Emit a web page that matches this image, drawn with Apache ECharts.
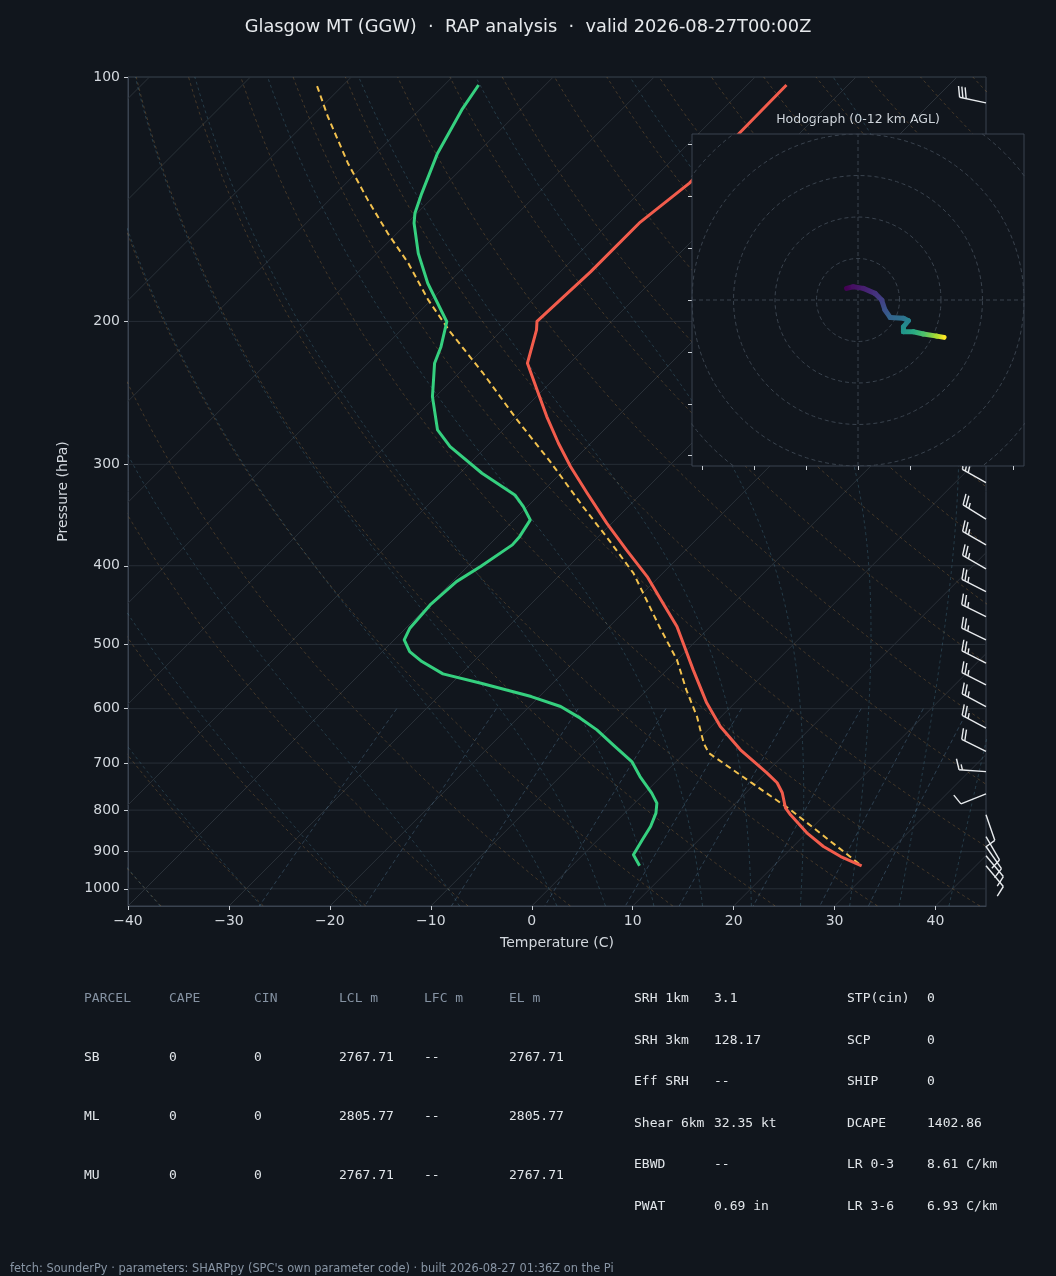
<!DOCTYPE html>
<html>
<head>
<meta charset="utf-8">
<script src="https://cdn.jsdelivr.net/npm/echarts@6/dist/echarts.min.js"></script>
<style>
  html, body { margin: 0; padding: 0; background: #11161d; }
  #chart { width: 1056px; height: 1276px; }
</style>
</head>
<body>
<div id="chart"></div>
<script>
// ---- sounding profiles (pressure hPa / temperature C) ----
const tempP = [102.3, 117.2, 135.1, 150.9, 173.8, 200.0, 204.9, 225.2, 242.9, 262.0, 282.6, 301.9, 325.6, 354.5, 382.4, 412.5, 444.8, 475.3, 537.4, 590.1, 631.1, 674.2, 719.7, 740.3, 761.6, 794.7, 810.7, 853.2, 886.9, 912.5, 936.9];
const tempC = [-56.1, -56.0, -56.0, -57.0, -57.0, -57.4, -56.6, -54.2, -50.6, -47.0, -43.2, -39.7, -35.4, -30.5, -25.9, -21.2, -17.0, -13.3, -7.4, -2.8, 0.9, 5.2, 10.1, 12.1, 13.6, 15.4, 16.6, 20.0, 23.0, 25.7, 28.7];

const dewP = [102.3, 109.8, 124.2, 139.1, 147.2, 151.4, 164.9, 179.5, 200.2, 214.9, 225.2, 247.6, 272.1, 285.3, 307.7, 327.2, 338.2, 351.2, 368.3, 377.0, 400.9, 418.4, 447.0, 477.5, 493.6, 510.2, 524.9, 543.5, 558.1, 579.7, 596.3, 616.3, 637.1, 664.8, 697.0, 727.3, 762.3, 784.2, 806.8, 838.1, 870.3, 908.1, 936.9];
const dewC = [-86.6, -85.8, -83.9, -81.5, -80.2, -79.3, -75.9, -72.0, -66.3, -64.4, -63.4, -60.3, -56.5, -53.6, -47.8, -42.4, -40.4, -38.4, -37.8, -37.7, -38.7, -39.6, -39.9, -39.6, -39.0, -37.3, -35.1, -31.8, -27.1, -20.8, -16.9, -13.8, -11.0, -7.9, -4.4, -2.1, 0.7, 2.2, 3.1, 3.9, 4.4, 5.0, 6.7];

const parcelP = [102.6, 111.9, 127.7, 141.7, 155.8, 169.6, 188.2, 205.9, 231.7, 264.5, 297.7, 338.2, 368.3, 408.5, 477.5, 522.4, 568.8, 613.5, 661.6, 680.5, 740.6, 799.2, 936.9];
const parcelC = [-102.5, -98.4, -91.8, -86.2, -80.9, -75.9, -70.3, -65.0, -57.6, -49.6, -42.2, -34.5, -29.2, -22.9, -14.8, -10.0, -6.1, -2.4, 0.9, 2.4, 9.6, 16.1, 28.7];

// ---- wind barbs (direction from, deg / speed kt) ----
const barbP = [107.6, 125, 150, 175, 200, 225, 250, 275, 300, 315.9, 350.5, 377.0, 403.5, 430.4, 462.0, 493.6, 527.3, 560.8, 596.3, 634.0, 677.0, 717.2, 763.8, 810.7, 862.2, 886.9, 910.7, 936.9];
const barbDir = [282, 285, 290, 292, 294, 295, 297, 298, 299, 299, 302, 300, 300, 297, 296, 296, 297, 297, 298, 298, 296, 274, 248, 161, 150, 145, 140, 140];
const barbSpd = [30, 35, 40, 45, 45, 40, 35, 30, 30, 30, 25, 25, 25, 25, 25, 25, 25, 25, 25, 25, 20, 15, 10, 10, 10, 10, 10, 10];

// ---- hodograph (kt) and height (km AGL) ----
const hodoU = [-5.5, -2.3, 2.6, 8.2, 11.4, 13.0, 15.5, 21.9, 24.3, 21.9, 21.9, 26.7, 31.5, 38.0, 41.5];
const hodoV = [5.6, 6.4, 5.6, 3.2, 0.0, -4.8, -8.4, -8.8, -10.0, -12.9, -15.3, -15.3, -16.4, -17.4, -18.0];
const hodoZ = [0, 0.5, 1.0, 1.7, 2.3, 3.0, 3.8, 4.5, 5.3, 5.8, 6.3, 7.2, 8.5, 10.5, 12.0];
const hodoRings = [20, 40, 60, 80, 100];
const hodoTicks = [-75, -50, -25, 0, 25, 50, 75];

// ---- axes ----
const pressTicks = [100, 200, 300, 400, 500, 600, 700, 800, 900, 1000];
const tempTicks = [-40, -30, -20, -10, 0, 10, 20, 30, 40];

// ---- parameter table ----
const parcelHead = ['PARCEL', 'CAPE', 'CIN', 'LCL m', 'LFC m', 'EL m'];
const parcelRows = [
  ['SB', '0', '0', '2767.71', '--', '2767.71'],
  ['ML', '0', '0', '2805.77', '--', '2805.77'],
  ['MU', '0', '0', '2767.71', '--', '2767.71']
];
const idxLabelsA = ['SRH 1km', 'SRH 3km', 'Eff SRH', 'Shear 6km', 'EBWD', 'PWAT'];
const idxValuesA = ['3.1', '128.17', '--', '32.35 kt', '--', '0.69 in'];
const idxLabelsB = ['STP(cin)', 'SCP', 'SHIP', 'DCAPE', 'LR 0-3', 'LR 3-6'];
const idxValuesB = ['0', '0', '0', '1402.86', '8.61 C/km', '6.93 C/km'];

const TITLE = 'Glasgow MT (GGW)  \u00b7  RAP analysis  \u00b7  valid 2026-08-27T00:00Z';
const FOOTER = "fetch: SounderPy \u00b7 parameters: SHARPpy (SPC's own parameter code) \u00b7 built 2026-08-27 01:36Z on the Pi";

// ---- layout ----
const BG = '#11161d';
const PLOT = { left: 128, top: 77, width: 858, height: 829 };
const HODO = { left: 692, top: 134, width: 332, height: 332 };
const P_TOP = 100, P_BOT = 1050, T_MIN = -40, T_MAX = 45;
const SKEW = (PLOT.height / PLOT.width) * (T_MAX - T_MIN) / Math.log(P_BOT / P_TOP);
const TXT = '#d3d8de';
const VIRIDIS = ['#440154', '#482878', '#3e4989', '#31688e', '#26828e', '#1f9e89', '#35b779', '#6ece58', '#b5de2b', '#fde725'];

const pt = (T, p) => [T + SKEW * Math.log(P_BOT / p), Math.log(p)];
const fmtMinus = v => (v < 0 ? '\u2212' + (-v) : String(v));

function viridis(t) {
  t = Math.max(0, Math.min(1, t)) * (VIRIDIS.length - 1);
  const i = Math.min(Math.floor(t), VIRIDIS.length - 2), f = t - i;
  const a = VIRIDIS[i], b = VIRIDIS[i + 1];
  const c = k => Math.round(parseInt(a.substr(k, 2), 16) * (1 - f) + parseInt(b.substr(k, 2), 16) * f);
  return 'rgb(' + c(1) + ',' + c(3) + ',' + c(5) + ')';
}

// thermodynamic background lines
function satMix(p, T) {
  const es = 6.112 * Math.exp(17.67 * (T - 273.15) / (T - 29.65));
  return 0.622 * es / Math.max(p - es, 1);
}
function moistRate(p, T) {
  const rs = satMix(p, T);
  return (287.04 * T + 2.501e6 * rs) / (1005.7 + 2.501e6 * 2.501e6 * rs * 0.622 / (287.04 * T * T)) / p;
}
function rk4(p, T, dp) {
  const k1 = moistRate(p, T);
  const k2 = moistRate(p + dp / 2, T + dp / 2 * k1);
  const k3 = moistRate(p + dp / 2, T + dp / 2 * k2);
  const k4 = moistRate(p + dp, T + dp * k3);
  return T + dp / 6 * (k1 + 2 * k2 + 2 * k3 + k4);
}
function moistLine(t0) {
  let T = t0 + 273.15;
  const up = [[1000, T]];
  for (let p = 1000; p > 100; p -= 5) { T = rk4(p, T, -5); up.push([p - 5, T]); }
  T = t0 + 273.15;
  const down = [];
  for (let p = 1000; p < 1050; p += 5) { T = rk4(p, T, 5); down.push([p + 5, T]); }
  return down.reverse().concat(up).map(d => pt(d[1] - 273.15, d[0]));
}
const logPs = [];
for (let i = 0; i <= 80; i++) logPs.push(P_BOT * Math.pow(P_TOP / P_BOT, i / 80));

function bgLine(data, color, type) {
  return {
    type: 'line', xAxisIndex: 0, yAxisIndex: 0, data, symbol: 'none', clip: true, silent: true,
    z: 1, lineStyle: { color, width: 1, type }
  };
}

const series = [];
pressTicks.forEach(p => series.push(bgLine([[T_MIN, Math.log(p)], [T_MAX, Math.log(p)]], '#272e37', 'solid')));
for (let T = -120; T <= 40; T += 10) series.push(bgLine([pt(T, P_BOT), pt(T, P_TOP)], '#2a3139', 'solid'));
for (let T0 = -40; T0 <= 240; T0 += 10) {
  const th = T0 + 273.15;
  series.push(bgLine(logPs.map(p => pt(th * Math.pow(p / 1000, 0.2857) - 273.15, p)), 'rgba(190,135,70,0.30)', [3, 3]));
}
[-40, -30, -20, -10].concat(Array.from({ length: 20 }, (_, i) => i * 5)).forEach(t0 =>
  series.push(bgLine(moistLine(t0), 'rgba(80,140,165,0.32)', [3, 3])));
[0.0004, 0.001, 0.002, 0.004, 0.007, 0.01, 0.016, 0.024, 0.032].forEach(w => {
  const data = [];
  for (let p = 600; p <= 1050; p += 10) {
    const l = Math.log(w * p / (0.622 + w) / 6.112);
    data.push(pt(243.5 * l / (17.67 - l), p));
  }
  series.push(bgLine(data, 'rgba(90,130,160,0.40)', [4, 3]));
});

// profiles
function profile(ps, ts, color, width, type, z) {
  return {
    type: 'line', xAxisIndex: 0, yAxisIndex: 0, data: ps.map((p, i) => pt(ts[i], p)),
    symbol: 'none', clip: true, silent: true, z, lineStyle: { color, width, type, join: 'round' }
  };
}
series.push(profile(parcelP, parcelC, '#f2c14e', 2, [6, 4], 4));
series.push(profile(dewP, dewC, '#35d07f', 3, 'solid', 5));
series.push(profile(tempP, tempC, '#f25c4c', 3, 'solid', 5));

// wind barbs on right edge
const BARB_LEN = 27;
series.push({
  type: 'custom', xAxisIndex: 0, yAxisIndex: 0, silent: true, z: 6, clip: false,
  data: barbP.map(p => [T_MAX, Math.log(p)]),
  encode: { x: 0, y: 1 },
  renderItem(params, api) {
    const i = params.dataIndex;
    const base = api.coord([api.value(0), api.value(1)]);
    const a = barbDir[i] * Math.PI / 180;
    const ux = Math.sin(a), uy = -Math.cos(a), nx = Math.cos(a), ny = Math.sin(a);
    const L = BARB_LEN, sp = 0.125 * L, h = 0.4 * L, w = 0.125 * L;
    const style = { stroke: '#e8ebee', lineWidth: 1.4, fill: null };
    const kids = [{ type: 'polyline', shape: { points: [base, [base[0] + ux * L, base[1] + uy * L]] }, style }];
    const s = Math.round(barbSpd[i] / 5) * 5;
    const nFull = Math.floor(s / 10), half = s % 10 >= 5;
    let d = L;
    const feather = (k) => {
      const px = base[0] + ux * d, py = base[1] + uy * d;
      kids.push({ type: 'polyline', shape: { points: [[px, py], [px + nx * h * k + ux * w * k, py + ny * h * k + uy * w * k]] }, style });
    };
    for (let f = 0; f < nFull; f++) { feather(1); d -= sp; }
    if (half) { if (nFull === 0) d -= 1.5 * sp; feather(0.5); }
    return { type: 'group', children: kids };
  }
});

// hodograph
const circ = r => Array.from({ length: 121 }, (_, k) => [r * Math.cos(k * Math.PI / 60), r * Math.sin(k * Math.PI / 60)]);
function hodoLine(data) {
  return {
    type: 'line', xAxisIndex: 1, yAxisIndex: 1, data, symbol: 'none', clip: true, silent: true,
    zlevel: 1, z: 3, lineStyle: { color: '#3a434e', width: 1, type: [4, 3] }
  };
}
hodoRings.forEach(r => series.push(hodoLine(circ(r))));
series.push(hodoLine([[-80, 0], [80, 0]]));
series.push(hodoLine([[0, -80], [0, 80]]));
series.push({
  type: 'custom', xAxisIndex: 1, yAxisIndex: 1, silent: true, zlevel: 1, z: 5,
  data: hodoU.map((u, i) => [u, hodoV[i], hodoZ[i]]),
  encode: { x: 0, y: 1 },
  renderItem(params, api) {
    const i = params.dataIndex;
    if (i >= hodoU.length - 1) return;
    const a = api.coord([hodoU[i], hodoV[i]]), b = api.coord([hodoU[i + 1], hodoV[i + 1]]);
    return {
      type: 'line', shape: { x1: a[0], y1: a[1], x2: b[0], y2: b[1] },
      style: {
        lineWidth: 5, lineCap: 'round',
        stroke: new echarts.graphic.LinearGradient(a[0], a[1], b[0], b[1], [
          { offset: 0, color: viridis(hodoZ[i] / 12) }, { offset: 1, color: viridis(hodoZ[i + 1] / 12) }], true)
      }
    };
  }
});

// text
function txt(x, y, text, fill, font, align) {
  align = align || 'left';
  return {
    type: 'text', x, y, silent: true,
    style: { text, fill, font, align, textAlign: align, verticalAlign: 'middle', textVerticalAlign: 'middle' }
  };
}
const MONO = '13px "DejaVu Sans Mono", monospace';
const graphics = [
  txt(528, 27, TITLE, '#e6e9ec', '17.8px "DejaVu Sans"', 'center'),
  txt(858, 120, 'Hodograph (0-12 km AGL)', '#cfd5db', '12.5px "DejaVu Sans"', 'center'),
  txt(10, 1269, FOOTER, '#8895a4', '11.4px "DejaVu Sans"')
];
const colX = [84, 169, 254, 339, 424, 509];
parcelHead.forEach((h, c) => graphics.push(txt(colX[c], 999, h, '#8592a2', MONO)));
parcelRows.forEach((row, r) => row.forEach((v, c) => graphics.push(txt(colX[c], 1058 + r * 59, v, '#e2e6ea', MONO))));
const idxY = [999, 1041, 1082, 1124, 1165, 1207];
idxLabelsA.forEach((l, r) => {
  graphics.push(txt(634, idxY[r], l, '#e2e6ea', MONO));
  graphics.push(txt(714, idxY[r], idxValuesA[r], '#e2e6ea', MONO));
  graphics.push(txt(847, idxY[r], idxLabelsB[r], '#e2e6ea', MONO));
  graphics.push(txt(927, idxY[r], idxValuesB[r], '#e2e6ea', MONO));
});

const hodoAxis = {
  gridIndex: 1, type: 'value', min: -80, max: 80, zlevel: 1,
  axisLine: { show: false, onZero: false },
  axisTick: { show: true, length: 4, customValues: hodoTicks, lineStyle: { color: '#c9ced4' } },
  axisLabel: { show: false }, splitLine: { show: false }
};

const chart = echarts.init(document.getElementById('chart'));
chart.setOption({
  backgroundColor: BG,
  animation: false,
  grid: [
    Object.assign({ show: true, borderColor: '#3a4350', borderWidth: 1, backgroundColor: 'transparent' }, PLOT),
    Object.assign({ show: true, borderColor: '#3a4350', borderWidth: 1, backgroundColor: BG, zlevel: 1 }, HODO)
  ],
  xAxis: [{
    gridIndex: 0, type: 'value', min: T_MIN, max: T_MAX, interval: 10,
    axisLine: { show: true, onZero: false, lineStyle: { color: '#3a4350' } },
    axisTick: { show: true, length: 4, customValues: tempTicks, lineStyle: { color: '#c9ced4' } },
    axisLabel: { color: TXT, fontSize: 14, fontFamily: 'DejaVu Sans', margin: 8, customValues: tempTicks, formatter: fmtMinus },
    splitLine: { show: false },
    name: 'Temperature (C)', nameLocation: 'middle', nameGap: 30,
    nameTextStyle: { color: TXT, fontSize: 14, fontFamily: 'DejaVu Sans' }
  }, hodoAxis],
  yAxis: [{
    gridIndex: 0, type: 'value', inverse: true, min: Math.log(P_TOP), max: Math.log(P_BOT),
    axisLine: { show: true, onZero: false, lineStyle: { color: '#3a4350' } },
    axisTick: { show: true, length: 4, customValues: pressTicks.map(Math.log), lineStyle: { color: '#c9ced4' } },
    axisLabel: {
      color: TXT, fontSize: 14, fontFamily: 'DejaVu Sans', margin: 8,
      customValues: pressTicks.map(Math.log), formatter: v => String(Math.round(Math.exp(v)))
    },
    splitLine: { show: false },
    name: 'Pressure (hPa)', nameLocation: 'middle', nameGap: 58, nameRotate: 90,
    nameTextStyle: { color: TXT, fontSize: 14, fontFamily: 'DejaVu Sans' }
  }, Object.assign({}, hodoAxis)],
  graphic: { elements: graphics },
  series
});
</script>
</body>
</html>
